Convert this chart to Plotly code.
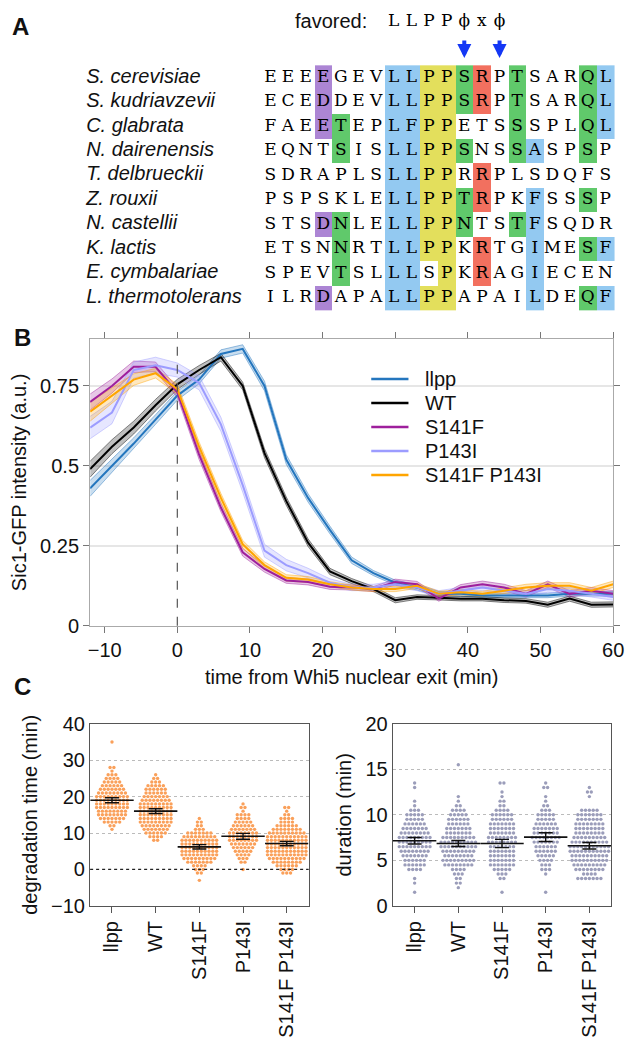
import plotly.graph_objects as go

FONT = "Liberation Sans, Arial, sans-serif"
MONO = "DejaVu Serif, serif"
W, H = 632, 1050

# ---------------- Panel A: alignment ----------------
species = ["S. cerevisiae", "S. kudriavzevii", "C. glabrata", "N. dairenensis",
           "T. delbrueckii", "Z. rouxii", "N. castellii", "K. lactis",
           "E. cymbalariae", "L. thermotolerans"]
sequences = ["EEEEGEVLLPPSRPTSARQL", "ECEDDEVLLPPSRPTSARQL", "FAEETEPLFPPETSSSPLQL",
             "EQNTSISLLPPSNSSASPSP", "SDRAPLSLLPPRRPLSDQFS", "PSPSKLELLPPTRPKFSSSP",
             "STSDNLELLPPNTSTFSQDR", "ETSNNRTLLPPKRTGIMESF", "SPEVTSLLLSPKRAGIECEN",
             "ILRDAPALLPPAPAILDEQF"]
# p=purple, g=green, b=blue, y=yellow, r=red, .=none
highlight = ["...p...bbyygr.g...gb", "...p...bbyygr.g...gb", "...pg..bbyy...g...gb",
             "....g..bbyyg..gb..g.", ".......bbyy.r.......", ".......bbyygr..b..g.",
             "...pg..bbyyg..gb....", "....g..bbyy.r..b..gb", "....g..bb.y.r..b....",
             "...p...bbyy....b..gb"]
favored_motif = ["L", "L", "P", "P", "ϕ", "x", "ϕ"]
favored_cols = [7, 8, 9, 10, 11, 12, 13]
arrow_cols = [11, 13]
code_of = {"p": 1, "g": 2, "b": 3, "y": 4, "r": 5}
cell_colors = ["#AC85D4", "#60C96B", "#93C9F1", "#E3DF5C", "#F2705F"]

# ---------------- Panel B: time courses ----------------
time_min = [-12, -9, -6, -3, 0, 3, 6, 9, 12, 15, 18, 21, 24, 27, 30, 33, 36, 39, 42, 45, 48, 51, 54, 57, 60]
names_b = ["llpp", "WT", "S141F", "P143I", "S141F P143I"]
llpp = [0.43, 0.50, 0.57, 0.645, 0.72, 0.77, 0.85, 0.866, 0.75, 0.52, 0.40, 0.30, 0.205, 0.165, 0.135,
        0.12, 0.10, 0.10, 0.095, 0.095, 0.095, 0.095, 0.10, 0.10, 0.10]
wt = [0.49, 0.56, 0.62, 0.69, 0.755, 0.80, 0.84, 0.75, 0.54, 0.39, 0.26, 0.17, 0.14, 0.115, 0.08,
      0.09, 0.088, 0.085, 0.085, 0.08, 0.078, 0.066, 0.085, 0.066, 0.067]
s141f = [0.70, 0.75, 0.81, 0.81, 0.73, 0.535, 0.37, 0.23, 0.178, 0.142, 0.137, 0.122, 0.12, 0.115, 0.137,
         0.13, 0.085, 0.12, 0.13, 0.12, 0.10, 0.13, 0.10, 0.11, 0.10]
p143i = [0.62, 0.667, 0.80, 0.815, 0.80, 0.76, 0.63, 0.44, 0.235, 0.19, 0.165, 0.135, 0.12, 0.12, 0.13,
         0.12, 0.10, 0.11, 0.12, 0.11, 0.10, 0.115, 0.11, 0.10, 0.09]
s141f_p143i = [0.67, 0.72, 0.77, 0.79, 0.74, 0.56, 0.40, 0.255, 0.19, 0.15, 0.145, 0.13, 0.12, 0.115, 0.115,
               0.125, 0.10, 0.105, 0.10, 0.11, 0.12, 0.125, 0.125, 0.11, 0.13]
llpp_sem = [0.025, 0.02, 0.018, 0.015, 0.014, 0.013, 0.013, 0.013, 0.015, 0.015, 0.013, 0.012, 0.01,
            0.008, 0.008, 0.008, 0.007, 0.007, 0.007, 0.007, 0.007, 0.007, 0.007, 0.007, 0.007]
wt_sem = [0.025, 0.022, 0.02, 0.018, 0.016, 0.014, 0.012, 0.012, 0.014, 0.013, 0.012, 0.01, 0.008,
          0.008, 0.008, 0.007, 0.007, 0.007, 0.007, 0.007, 0.007, 0.008, 0.008, 0.008, 0.008]
s141f_sem = [0.025, 0.022, 0.018, 0.015, 0.015, 0.015, 0.013, 0.012, 0.01, 0.009, 0.009, 0.008, 0.008,
             0.008, 0.009, 0.009, 0.008, 0.009, 0.01, 0.01, 0.01, 0.01, 0.01, 0.01, 0.01]
p143i_sem = [0.035, 0.035, 0.025, 0.025, 0.022, 0.022, 0.022, 0.022, 0.02, 0.018, 0.015, 0.012, 0.01,
             0.01, 0.01, 0.01, 0.01, 0.01, 0.01, 0.01, 0.01, 0.01, 0.01, 0.01, 0.01]
s141f_p143i_sem = [0.03, 0.025, 0.018, 0.015, 0.015, 0.015, 0.014, 0.012, 0.01, 0.01, 0.009, 0.008, 0.008,
                   0.008, 0.008, 0.008, 0.008, 0.008, 0.008, 0.009, 0.01, 0.01, 0.01, 0.01, 0.01]
colors_b = ["#2476BE", "#000000", "#9E1F9C", "#9C9CFF", "#FFA500"]
rgb_b = [(36, 118, 190), (0, 0, 0), (158, 31, 156), (156, 156, 255), (255, 165, 0)]

# ---------------- Panel C: swarm plots ----------------
groups_c = ["llpp", "WT", "S141F", "P143I", "S141F P143I"]
# degradation time (min): value levels and number of cells at each level
deg_llpp_v = [35, 28, 27, 26, 25, 24, 23, 22, 21, 20, 19, 18, 17, 16, 15, 14, 13, 12, 11]
deg_llpp_n = [1, 2, 1, 3, 4, 5, 6, 7, 8, 9, 9, 9, 9, 8, 8, 7, 5, 2, 1]
deg_wt_v = [26, 25, 24, 23, 22, 21, 20, 19, 18, 17, 16, 15, 14, 13, 12, 11, 10, 9, 8]
deg_wt_n = [1, 2, 3, 5, 6, 6, 7, 8, 9, 9, 9, 9, 9, 9, 8, 7, 6, 4, 2]
deg_s141f_v = [14, 13, 12, 11, 10, 9, 8, 7, 6, 5, 4, 3, 2, 1, 0, -1, -3]
deg_s141f_n = [1, 2, 2, 3, 7, 9, 10, 10, 10, 10, 10, 9, 7, 4, 3, 2, 1]
deg_p143i_v = [18, 17, 16, 15, 14, 13, 12, 11, 10, 9, 8, 7, 6, 5, 4, 3, 2, 0]
deg_p143i_n = [1, 2, 1, 4, 4, 5, 6, 7, 8, 8, 8, 7, 6, 5, 4, 3, 2, 1]
deg_sp_v = [17, 16, 15, 14, 13, 12, 11, 10, 9, 8, 7, 6, 5, 4, 3, 2, 1, 0, -1]
deg_sp_n = [2, 1, 2, 4, 4, 6, 8, 10, 11, 11, 11, 11, 11, 11, 10, 8, 6, 4, 3]
deg_mean = [19.0, 16.0, 6.2, 9.1, 7.1]
deg_ci = [0.7, 0.65, 0.6, 0.8, 0.6]
# duration (min)
dur_llpp_v = [13.5, 13, 11.5, 11, 10.5, 10, 9.5, 9, 8.5, 8, 7.5, 7, 6.5, 6, 5.5, 5, 4.5, 4, 3, 2.5, 1.5]
dur_llpp_n = [1, 1, 1, 1, 3, 5, 5, 6, 7, 8, 9, 9, 9, 8, 7, 6, 6, 4, 1, 1, 1]
dur_wt_v = [15.5, 12, 11.5, 11, 10.5, 10, 9.5, 9, 8.5, 8, 7.5, 7, 6.5, 6, 5.5, 5, 4.5, 4, 3.5, 3, 2.5, 2]
dur_wt_n = [1, 1, 1, 2, 4, 5, 6, 6, 7, 7, 9, 10, 10, 9, 8, 9, 8, 4, 3, 2, 2, 1]
dur_s141f_v = [13.5, 12.5, 12, 11.5, 11, 10.5, 10, 9.5, 9, 8.5, 8, 7.5, 7, 6.5, 6, 5.5, 5, 4.5, 4, 3.5, 3, 1.5]
dur_s141f_n = [2, 1, 1, 2, 2, 4, 6, 6, 7, 7, 7, 8, 8, 7, 7, 7, 7, 7, 5, 3, 2, 1]
dur_p143i_v = [13.5, 13, 12, 11.5, 11, 10.5, 10, 9.5, 9, 8.5, 8, 7.5, 7, 6.5, 6, 5.5, 5, 4.5, 4, 3.5, 1.5]
dur_p143i_n = [1, 2, 1, 1, 2, 3, 5, 5, 6, 7, 7, 8, 7, 6, 6, 5, 4, 3, 3, 1, 1]
dur_sp_v = [13, 12.5, 12, 10.5, 10, 9.5, 9, 8.5, 8, 7.5, 7, 6.5, 6, 5.5, 5, 4.5, 4, 3.5, 3]
dur_sp_n = [1, 2, 1, 5, 7, 7, 8, 8, 8, 9, 10, 11, 11, 10, 10, 9, 8, 4, 7]
dur_mean = [7.15, 6.85, 6.85, 7.55, 6.6]
dur_ci = [0.35, 0.33, 0.45, 0.48, 0.36]

deg_levels = [(deg_llpp_v, deg_llpp_n), (deg_wt_v, deg_wt_n), (deg_s141f_v, deg_s141f_n),
              (deg_p143i_v, deg_p143i_n), (deg_sp_v, deg_sp_n)]
dur_levels = [(dur_llpp_v, dur_llpp_n), (dur_wt_v, dur_wt_n), (dur_s141f_v, dur_s141f_n),
              (dur_p143i_v, dur_p143i_n), (dur_sp_v, dur_sp_n)]

fig = go.Figure()

# ===== Panel A (xaxis4/yaxis4) =====
z = []
for row in highlight:
    z.append([code_of[c] if c in code_of else None for c in row])
cs = []
for i, c in enumerate(cell_colors):
    cs.append([i / 5, c])
    cs.append([(i + 1) / 5, c])
fig.add_trace(go.Heatmap(z=z, x=list(range(20)), y=list(range(len(species))), colorscale=cs,
                         zmin=0.5, zmax=5.5, showscale=False, hoverinfo="skip",
                         xaxis="x4", yaxis="y4"))
lx, ly, lt = [], [], []
for r, seq in enumerate(sequences):
    for c, ch in enumerate(seq):
        lx.append(c); ly.append(r); lt.append(ch)
fig.add_trace(go.Scatter(x=lx, y=ly, text=lt, mode="text", hoverinfo="skip", showlegend=False,
                         textfont=dict(family=MONO, size=17, color="#000"), xaxis="x4", yaxis="y4"))
fig.add_trace(go.Scatter(x=[-10.45] * len(species), y=list(range(len(species))), text=species,
                         mode="text", textposition="middle right", hoverinfo="skip", showlegend=False,
                         textfont=dict(family=FONT, size=20, color="#111", style="italic"),
                         xaxis="x4", yaxis="y4"))
fig.add_trace(go.Scatter(x=favored_cols, y=[-2.3] * len(favored_cols), text=favored_motif, mode="text",
                         hoverinfo="skip", showlegend=False,
                         textfont=dict(family=MONO, size=17, color="#000"), xaxis="x4", yaxis="y4"))
annotations = [dict(x=5.6, y=-2.3, xref="x4", yref="y4", text="favored:", showarrow=False,
                    xanchor="right", yanchor="middle", font=dict(family=FONT, size=20, color="#111"))]
for c in arrow_cols:
    annotations.append(dict(x=c, y=-0.8, xref="x4", yref="y4", text="", showarrow=True,
                            ax=0, ay=-19, arrowhead=2, arrowsize=0.7, arrowwidth=4,
                            arrowcolor="#1437F5"))

# ===== Panel B (x/y) =====
series_b = [llpp, wt, s141f, p143i, s141f_p143i]
sems_b = [llpp_sem, wt_sem, s141f_sem, p143i_sem, s141f_p143i_sem]
for name, vals, sem, (r, g, b) in zip(names_b, series_b, sems_b, rgb_b):
    up = [v + s for v, s in zip(vals, sem)]
    lo = [v - s for v, s in zip(vals, sem)]
    fig.add_trace(go.Scatter(x=time_min, y=up, mode="lines", showlegend=False, hoverinfo="skip",
                             line=dict(color=f"rgba({r},{g},{b},0.45)", width=1)))
    fig.add_trace(go.Scatter(x=time_min, y=lo, mode="lines", showlegend=False, hoverinfo="skip",
                             fill="tonexty", fillcolor=f"rgba({r},{g},{b},0.25)",
                             line=dict(color=f"rgba({r},{g},{b},0.45)", width=1)))
for name, vals, col in zip(names_b, series_b, colors_b):
    fig.add_trace(go.Scatter(x=time_min, y=vals, mode="lines", name=name, showlegend=False,
                             line=dict(color=col, width=2)))


# ===== Panel C =====
def swarm(center, levels, counts, step):
    xs, ys = [], []
    for v, n in zip(levels, counts):
        for k in range(n):
            xs.append(center + (k - (n - 1) / 2) * step)
            ys.append(v)
    return xs, ys


for (ax, ay, levels_all, means, cis, col) in [("x2", "y2", deg_levels, deg_mean, deg_ci, "#FAA05A"),
                                              ("x3", "y3", dur_levels, dur_mean, dur_ci, "#9B9DBA")]:
    for gi, (lv, cn) in enumerate(levels_all):
        xs, ys = swarm(gi, lv, cn, 0.088)
        fig.add_trace(go.Scatter(x=xs, y=ys, mode="markers", showlegend=False, hoverinfo="skip",
                                 marker=dict(size=3.4, color=col, line=dict(width=0)),
                                 xaxis=ax, yaxis=ay))
    fig.add_trace(go.Scatter(x=list(range(5)), y=means, mode="markers", showlegend=False,
                             hoverinfo="skip",
                             marker=dict(symbol="line-ew", size=31, line=dict(color="#111", width=1.6)),
                             error_y=dict(type="data", array=cis, visible=True, color="#111",
                                          thickness=1.4, width=7),
                             xaxis=ax, yaxis=ay))

# panel labels
for txt, px, py in [("A", 8, 16), ("B", 10, 333), ("C", 10, 690)]:
    annotations.append(dict(x=px / W, y=1 - py / H, xref="paper", yref="paper", text=f"<b>{txt}</b>",
                            showarrow=False, xanchor="left", yanchor="middle",
                            font=dict(family=FONT, size=24, color="#111")))

shapes = [
    dict(type="line", xref="x", yref="y domain", x0=0, x1=0, y0=0, y1=1,
         line=dict(color="#555", width=1.2, dash="dash")),
    dict(type="line", xref="x2 domain", yref="y2", x0=0, x1=1, y0=0, y1=0,
         line=dict(color="#222", width=1.2, dash="dot")),
    # legend background (covers grid lines like the original legend box)
    dict(type="rect", xref="x domain", yref="y domain", x0=0.487, x1=0.96, y0=0.47, y1=0.915,
         fillcolor="white", line=dict(width=0), layer="below"),
]

# legend for panel B: swatch + label per series
leg_top, leg_step = 376, 24.5
for i, (name, col) in enumerate(zip(names_b, colors_b)):
    yy = 1 - (leg_top + i * leg_step) / H
    shapes.append(dict(type="line", xref="paper", yref="paper", x0=377 / W, x1=415 / W, y0=yy, y1=yy,
                       line=dict(color=col, width=2.5)))
    annotations.append(dict(x=430 / W, y=yy, xref="paper", yref="paper", text=name, showarrow=False,
                            xanchor="left", yanchor="middle",
                            font=dict(family=FONT, size=20, color="#111")))

tickfont = dict(family=FONT, size=20, color="#111")
titlefont = dict(family=FONT, size=20, color="#111")

fig.update_layout(
    width=W, height=H, margin=dict(l=0, r=0, t=0, b=0),
    paper_bgcolor="white", plot_bgcolor="white",
    font=dict(family=FONT, size=20, color="#111"),
    showlegend=False,
    annotations=annotations, shapes=shapes,
    xaxis=dict(domain=[90 / W, 624 / W], anchor="y", range=[-12, 60],
               tickvals=[-10, 0, 10, 20, 30, 40, 50, 60], ticks="outside", ticklen=6,
               tickcolor="#777", showline=True, linecolor="#aaa", linewidth=1.2, mirror="ticks",
               showgrid=False, zeroline=False, tickfont=tickfont, ticklabeloverflow="allow",
               title=dict(text="time from Whi5 nuclear exit (min)", font=titlefont, standoff=10)),
    yaxis=dict(domain=[1 - 628 / H, 1 - 335 / H], anchor="x", range=[0, 0.897],
               tickvals=[0, 0.25, 0.5, 0.75], ticktext=["0", "0.25", "0.5", "0.75"],
               ticks="outside", ticklen=6, tickcolor="#777", showline=True, linecolor="#aaa",
               linewidth=1.2, mirror="ticks", showgrid=True, gridcolor="#e6e6e6", gridwidth=1.5,
               zeroline=False, tickfont=tickfont,
               title=dict(text="Sic1-GFP intensity (a.u.)", font=titlefont, standoff=8)),
    xaxis2=dict(domain=[90 / W, 313 / W], anchor="y2", range=[-0.5, 4.5],
                tickvals=list(range(5)), ticktext=groups_c, tickangle=-90, ticks="outside",
                ticklen=6, tickcolor="#555", showline=True, linecolor="#555", linewidth=1.3,
                mirror=True, showgrid=False, zeroline=False, tickfont=tickfont,
                ticklabeloverflow="allow"),
    yaxis2=dict(domain=[1 - 914 / H, 1 - 728 / H], anchor="x2", range=[-10, 40],
                tickvals=[-10, 0, 10, 20, 30, 40], showline=True, linecolor="#555", linewidth=1.3,
                mirror=True, showgrid=True, gridcolor="#bbb", griddash="dot", gridwidth=1.2,
                zeroline=False, tickfont=tickfont,
                title=dict(text="degradation time (min)", font=titlefont, standoff=8)),
    xaxis3=dict(domain=[399 / W, 622 / W], anchor="y3", range=[-0.5, 4.5],
                tickvals=list(range(5)), ticktext=groups_c, tickangle=-90, ticks="outside",
                ticklen=6, tickcolor="#555", showline=True, linecolor="#555", linewidth=1.3,
                mirror=True, showgrid=False, zeroline=False, tickfont=tickfont,
                ticklabeloverflow="allow"),
    yaxis3=dict(domain=[1 - 914 / H, 1 - 728 / H], anchor="x3", range=[0, 20],
                tickvals=[0, 5, 10, 15, 20], showline=True, linecolor="#555", linewidth=1.3,
                mirror=True, showgrid=True, gridcolor="#bbb", griddash="dot", gridwidth=1.2,
                zeroline=False, tickfont=tickfont,
                title=dict(text="duration (min)", font=titlefont, standoff=8)),
    xaxis4=dict(domain=[0, 1], anchor="y4", range=[-274 / 18, (W - 274) / 18], visible=False,
                fixedrange=True),
    yaxis4=dict(domain=[1 - 320 / H, 1], anchor="x4", range=[(320 - 68) / 25, -68 / 25],
                visible=False, fixedrange=True),
)

fig.write_html("out.html", config={"displayModeBar": False},
               post_script="document.body.style.margin='0px';document.body.style.overflow='hidden';")
